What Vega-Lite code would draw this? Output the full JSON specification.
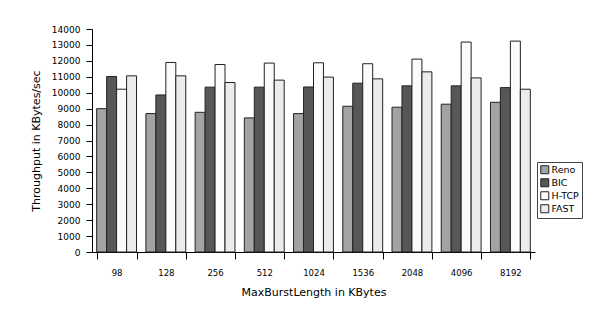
{
  "$schema": "https://vega.github.io/schema/vega-lite/v6.json",
  "autosize": {"type": "none"},
  "width": 443,
  "height": 223,
  "padding": {"left": 92, "top": 29, "right": 78, "bottom": 79},
  "background": "white",
  "data": {
    "values": [
      {"size": "98", "protocol": "Reno", "value": 9000},
      {"size": "98", "protocol": "BIC", "value": 11020},
      {"size": "98", "protocol": "H-TCP", "value": 10220},
      {"size": "98", "protocol": "FAST", "value": 11060},
      {"size": "128", "protocol": "Reno", "value": 8690},
      {"size": "128", "protocol": "BIC", "value": 9860},
      {"size": "128", "protocol": "H-TCP", "value": 11900},
      {"size": "128", "protocol": "FAST", "value": 11060},
      {"size": "256", "protocol": "Reno", "value": 8770},
      {"size": "256", "protocol": "BIC", "value": 10350},
      {"size": "256", "protocol": "H-TCP", "value": 11770},
      {"size": "256", "protocol": "FAST", "value": 10640},
      {"size": "512", "protocol": "Reno", "value": 8420},
      {"size": "512", "protocol": "BIC", "value": 10350},
      {"size": "512", "protocol": "H-TCP", "value": 11860},
      {"size": "512", "protocol": "FAST", "value": 10790},
      {"size": "1024", "protocol": "Reno", "value": 8690},
      {"size": "1024", "protocol": "BIC", "value": 10360},
      {"size": "1024", "protocol": "H-TCP", "value": 11880},
      {"size": "1024", "protocol": "FAST", "value": 10980},
      {"size": "1536", "protocol": "Reno", "value": 9150},
      {"size": "1536", "protocol": "BIC", "value": 10600},
      {"size": "1536", "protocol": "H-TCP", "value": 11820},
      {"size": "1536", "protocol": "FAST", "value": 10870},
      {"size": "2048", "protocol": "Reno", "value": 9090},
      {"size": "2048", "protocol": "BIC", "value": 10430},
      {"size": "2048", "protocol": "H-TCP", "value": 12110},
      {"size": "2048", "protocol": "FAST", "value": 11310},
      {"size": "4096", "protocol": "Reno", "value": 9280},
      {"size": "4096", "protocol": "BIC", "value": 10430},
      {"size": "4096", "protocol": "H-TCP", "value": 13180},
      {"size": "4096", "protocol": "FAST", "value": 10930},
      {"size": "8192", "protocol": "Reno", "value": 9400},
      {"size": "8192", "protocol": "BIC", "value": 10320},
      {"size": "8192", "protocol": "H-TCP", "value": 13240},
      {"size": "8192", "protocol": "FAST", "value": 10220}
    ]
  },
  "mark": {"type": "bar", "stroke": "#222222", "strokeWidth": 1},
  "encoding": {
    "x": {
      "field": "size",
      "type": "ordinal",
      "sort": ["98", "128", "256", "512", "1024", "1536", "2048", "4096", "8192"],
      "scale": {"paddingInner": 0.19, "paddingOuter": 0.095},
      "axis": {
        "title": "MaxBurstLength in KBytes",
        "labelAngle": 0,
        "tickBand": "extent",
        "tickSize": 7,
        "labelPadding": 9,
        "titlePadding": 10
      }
    },
    "xOffset": {
      "field": "protocol",
      "type": "nominal",
      "sort": ["Reno", "BIC", "H-TCP", "FAST"]
    },
    "y": {
      "field": "value",
      "type": "quantitative",
      "scale": {"domain": [0, 14000], "nice": false},
      "axis": {
        "title": "Throughput in KBytes/sec",
        "values": [0, 1000, 2000, 3000, 4000, 5000, 6000, 7000, 8000, 9000, 10000, 11000, 12000, 13000, 14000],
        "format": "d",
        "grid": false,
        "tickSize": 6,
        "labelPadding": 6,
        "titlePadding": 10,
        "labelFontSize": 9
      }
    },
    "fill": {
      "field": "protocol",
      "type": "nominal",
      "sort": ["Reno", "BIC", "H-TCP", "FAST"],
      "scale": {
        "domain": ["Reno", "BIC", "H-TCP", "FAST"],
        "range": ["#a3a3a3", "#575757", "#fbfbfb", "#ececec"]
      },
      "legend": {
        "title": null,
        "orient": "none",
        "legendX": 445,
        "legendY": 133,
        "symbolType": "square",
        "symbolSize": 64,
        "symbolStrokeColor": "#222222",
        "symbolStrokeWidth": 1,
        "labelFontSize": 9.5,
        "labelOffset": 2,
        "rowPadding": 0,
        "padding": 3,
        "strokeColor": "#444444",
        "fillColor": "white"
      }
    }
  },
  "config": {
    "view": {"stroke": null},
    "font": "DejaVu Sans",
    "axis": {
      "domainColor": "#000000",
      "tickColor": "#000000",
      "labelColor": "#000000",
      "titleColor": "#000000",
      "labelFontSize": 8.5,
      "titleFontSize": 11,
      "titleFontWeight": "normal",
      "labelFont": "DejaVu Sans",
      "titleFont": "DejaVu Sans"
    },
    "legend": {"labelColor": "#000000", "labelFont": "DejaVu Sans"}
  }
}
